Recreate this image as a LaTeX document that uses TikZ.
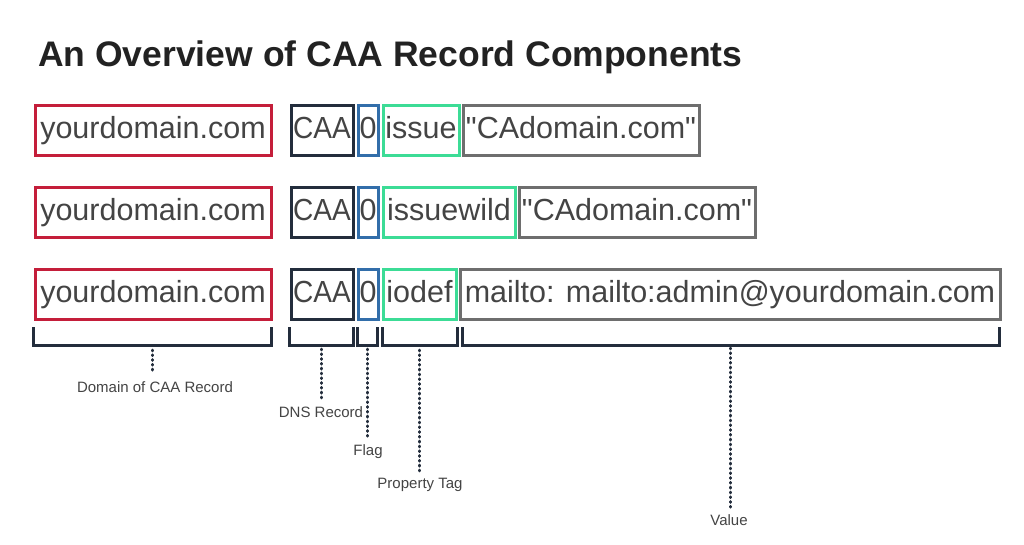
\documentclass[tikz,border=0pt]{standalone}
\usepackage{fontspec}
\setmainfont{Liberation Sans}
\newfontfamily\rawfont{Liberation Sans}
\definecolor{cred}{RGB}{196,30,58}
\definecolor{cnavy}{RGB}{35,45,60}
\definecolor{cblue}{RGB}{50,110,170}
\definecolor{cgreen}{RGB}{60,220,150}
\definecolor{cgray}{RGB}{110,110,110}
\definecolor{ctext}{RGB}{68,68,68}
\definecolor{ctitle}{RGB}{34,34,34}
\newcommand{\qt}{{\rawfont\symbol{34}}}
\begin{document}
\begin{tikzpicture}[x=1pt,y=-1pt,
  fbox/.style={draw, line width=3pt, inner sep=0pt, minimum height=50pt, text=ctext,
    text height=22pt, text depth=5pt,
    font=\fontsize{30.5}{33}\selectfont},
  dombox/.style={fbox, draw=cred, minimum width=236pt},
  caabox/.style={fbox, draw=cnavy, minimum width=62pt},
  flagbox/.style={fbox, draw=cblue, minimum width=20pt},
  tagbox/.style={fbox, draw=cgreen},
  valbox/.style={fbox, draw=cgray},
  brk/.style={draw=cnavy, line width=3pt},
  dots/.style={draw=cnavy, line width=3pt, line cap=round, dash pattern=on 0.8pt off 4pt},
  lbl/.style={anchor=north, inner sep=0pt, text=ctext, font=\fontsize{15}{17}\selectfont}
]
\useasboundingbox[fill=white] (0,0) rectangle (1024,544);
\node[anchor=base west, inner sep=0pt, text=ctitle, font=\fontsize{35.5}{40}\selectfont\bfseries] (title) at (38,66) {An Overview of CAA Record Components};
% row 1
\node[dombox] (d1) at (153,130) {yourdomain.com};
\node[caabox] (c1) at (322,130) {\scalebox{0.92}[1]{CAA}};
\node[flagbox] (f1) at (368,130) {0};
\node[tagbox, minimum width=76pt] (t1) at (421,130) {issue};
\node[valbox, minimum width=236pt] (v1) at (581,130) {\qt CAdomain.com\qt};
% row 2
\node[dombox] (d2) at (153,212) {yourdomain.com};
\node[caabox] (c2) at (322,212) {\scalebox{0.92}[1]{CAA}};
\node[flagbox] (f2) at (368,212) {0};
\node[tagbox, minimum width=132pt] (t2) at (449,212) {issuewild};
\node[valbox, minimum width=236pt] (v2) at (637,212) {\qt CAdomain.com\qt};
% row 3
\node[dombox] (d3) at (153,294) {yourdomain.com};
\node[caabox] (c3) at (322,294) {\scalebox{0.92}[1]{CAA}};
\node[flagbox] (f3) at (368,294) {0};
\node[tagbox, minimum width=73pt] (t3) at (419.5,294) {iodef};
\node[valbox, minimum width=540pt] (v3) at (730,294) {mailto: mailto:admin@yourdomain.com};
% brackets
\draw[brk] (33,327) -- (33,345) -- (271,345) -- (271,327);
\draw[brk] (289,327) -- (289,345) -- (353,345) -- (353,327);
\draw[brk] (357,327) -- (357,345) -- (377,345) -- (377,327);
\draw[brk] (382,327) -- (382,345) -- (457,345) -- (457,327);
\draw[brk] (462,327) -- (462,345) -- (999,345) -- (999,327);
\coordinate (bD) at (152,350);
\coordinate (bC) at (321,349);
\coordinate (bF) at (367,349);
\coordinate (bT) at (419,350);
\coordinate (bV) at (730,348);
% labels
\node[lbl] (lD) at (155,381) {Domain of CAA Record};
\node[lbl] (lC) at (321,406) {DNS Record};
\node[lbl] (lF) at (368,444) {Flag};
\node[lbl] (lT) at (420,478) {Property Tag};
\node[lbl] (lV) at (729,514) {Value};
\draw[dots, shorten >=8pt] (bD) -- (bD |- lD.north);
\draw[dots, shorten >=6pt] (bC) -- (bC |- lC.north);
\draw[dots, shorten >=6pt] (bF) -- (bF |- lF.north);
\draw[dots, shorten >=7pt] (bT) -- (bT |- lT.north);
\draw[dots, shorten >=6pt] (bV) -- (bV |- lV.north);
\end{tikzpicture}
\end{document}
